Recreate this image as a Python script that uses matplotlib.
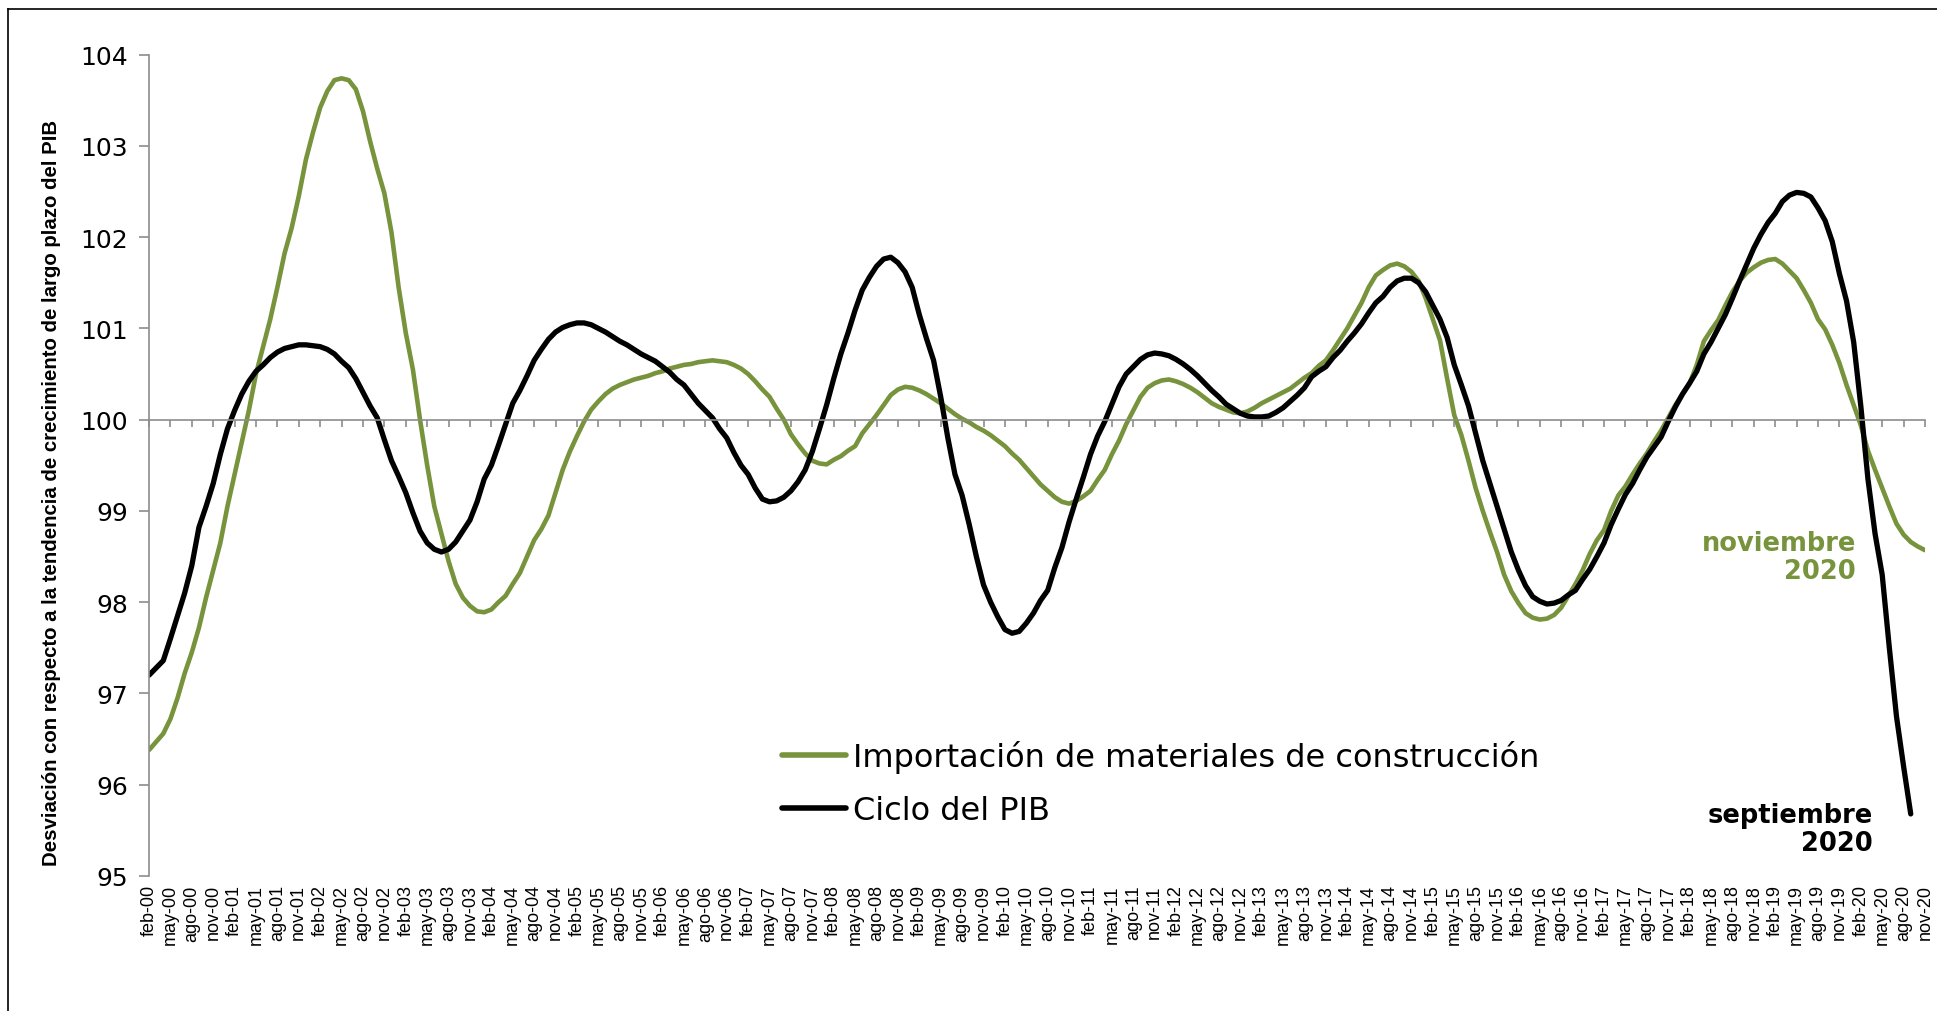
import matplotlib
matplotlib.use("Agg")
import matplotlib.pyplot as plt

# meses en castellano, la serie empieza en feb-00
meses = ["ene", "feb", "mar", "abr", "may", "jun", "jul", "ago", "sep", "oct", "nov", "dic"]

# Importación de materiales de construcción (feb-00 .. nov-20)
importaciones = [
    96.38, 96.47, 96.56, 96.72, 96.95, 97.22, 97.45, 97.72, 98.05, 98.35, 98.65, 99.05,
    99.40, 99.75, 100.10, 100.50, 100.80, 101.10, 101.45, 101.82, 102.10, 102.45, 102.85, 103.15,
    103.42, 103.60, 103.72, 103.74, 103.72, 103.62, 103.38, 103.05, 102.75, 102.48, 102.05, 101.45,
    100.95, 100.55, 100.00, 99.50, 99.05, 98.75, 98.45, 98.20, 98.05, 97.96, 97.90, 97.89,
    97.92, 98.00, 98.07, 98.20, 98.32, 98.50, 98.68, 98.80, 98.95, 99.20, 99.45, 99.65,
    99.82, 99.98, 100.11, 100.20, 100.28, 100.34, 100.38, 100.41, 100.44, 100.46, 100.48, 100.51,
    100.53, 100.56, 100.58, 100.60, 100.61, 100.63, 100.64, 100.65, 100.64, 100.63, 100.60, 100.56,
    100.50, 100.42, 100.33, 100.25, 100.12, 100.00, 99.84, 99.73, 99.63, 99.55, 99.52, 99.51,
    99.56, 99.60, 99.66, 99.71, 99.85, 99.95, 100.05, 100.16, 100.27, 100.33, 100.36, 100.35,
    100.32, 100.28, 100.23, 100.18, 100.12, 100.06, 100.01, 99.97, 99.92, 99.88, 99.83, 99.77,
    99.71, 99.63, 99.56, 99.47, 99.38, 99.29, 99.22, 99.15, 99.10, 99.08, 99.11, 99.16,
    99.22, 99.34, 99.45, 99.62, 99.77, 99.95, 100.10, 100.25, 100.35, 100.40, 100.43, 100.44,
    100.42, 100.39, 100.35, 100.30, 100.24, 100.18, 100.14, 100.11, 100.08, 100.07, 100.09, 100.13,
    100.18, 100.22, 100.26, 100.30, 100.34, 100.40, 100.46, 100.51, 100.59, 100.65, 100.76, 100.88,
    101.00, 101.14, 101.28, 101.45, 101.58, 101.64, 101.69, 101.71, 101.68, 101.62, 101.52, 101.33,
    101.10, 100.87, 100.45, 100.05, 99.83, 99.55, 99.25, 99.00, 98.77, 98.55, 98.30, 98.12,
    97.99, 97.88, 97.83, 97.81, 97.82, 97.86, 97.94, 98.07, 98.20, 98.35, 98.53, 98.68,
    98.79, 99.00, 99.17, 99.27, 99.40, 99.52, 99.63, 99.76, 99.88, 100.02, 100.16, 100.28,
    100.40, 100.60, 100.86, 100.98, 101.09, 101.25, 101.40, 101.52, 101.61, 101.67, 101.72, 101.75,
    101.76, 101.71, 101.63, 101.55, 101.42, 101.28, 101.10, 100.99, 100.82, 100.62, 100.38, 100.16,
    99.94, 99.66, 99.45, 99.25, 99.05, 98.86, 98.74, 98.66, 98.61, 98.57,
]

# Ciclo del PIB (feb-00 .. sep-20)
ciclo_pib = [
    97.20, 97.28, 97.36, 97.60, 97.85, 98.10, 98.40, 98.82, 99.05, 99.30, 99.62, 99.90,
    100.10, 100.28, 100.42, 100.53, 100.60, 100.68, 100.74, 100.78, 100.80, 100.82, 100.82, 100.81,
    100.80, 100.77, 100.72, 100.64, 100.57, 100.45, 100.30, 100.15, 100.02, 99.78, 99.55, 99.38,
    99.20, 98.98, 98.78, 98.65, 98.58, 98.55, 98.58, 98.66, 98.78, 98.90, 99.10, 99.35,
    99.50, 99.72, 99.95, 100.18, 100.32, 100.48, 100.65, 100.77, 100.88, 100.96, 101.01, 101.04,
    101.06, 101.06, 101.04, 101.00, 100.96, 100.91, 100.86, 100.82, 100.77, 100.72, 100.68, 100.64,
    100.58, 100.52, 100.44, 100.38, 100.28, 100.18, 100.10, 100.02, 99.90, 99.80, 99.64, 99.50,
    99.40, 99.25, 99.13, 99.10, 99.11, 99.15, 99.22, 99.32, 99.45, 99.65, 99.90, 100.16,
    100.45, 100.72, 100.95, 101.20, 101.42, 101.56, 101.68, 101.76, 101.78, 101.72, 101.62, 101.45,
    101.15, 100.89, 100.65, 100.25, 99.80, 99.40, 99.17, 98.85, 98.50, 98.19, 98.00, 97.84,
    97.70, 97.66, 97.68, 97.77, 97.88, 98.02, 98.13, 98.38, 98.60, 98.88, 99.13, 99.37,
    99.62, 99.82, 99.98, 100.17, 100.36, 100.50, 100.58, 100.66, 100.71, 100.73, 100.72, 100.70,
    100.66, 100.61, 100.55, 100.48, 100.40, 100.32, 100.25, 100.17, 100.12, 100.07, 100.04, 100.03,
    100.03, 100.04, 100.08, 100.13, 100.20, 100.27, 100.35, 100.47, 100.53, 100.58, 100.68, 100.76,
    100.86, 100.95, 101.05, 101.17, 101.28, 101.35, 101.45, 101.52, 101.55, 101.55, 101.50, 101.40,
    101.25, 101.10, 100.90, 100.60, 100.38, 100.15, 99.85, 99.55, 99.30, 99.05, 98.80, 98.55,
    98.35, 98.18, 98.06, 98.01, 97.98, 97.99, 98.02, 98.08, 98.13, 98.25, 98.36, 98.50,
    98.65, 98.85, 99.02, 99.18, 99.30, 99.45, 99.59, 99.70, 99.81, 99.98, 100.14, 100.28,
    100.40, 100.53, 100.72, 100.85, 101.00, 101.15, 101.33, 101.52, 101.70, 101.88, 102.03, 102.16,
    102.26, 102.39, 102.46, 102.49, 102.48, 102.44, 102.32, 102.18, 101.95, 101.60, 101.30, 100.85,
    100.15, 99.35, 98.75, 98.30, 97.50, 96.75, 96.20, 95.68,
]

fechas = ["%s-%02d" % (meses[(1 + i) % 12], (1 + i) // 12) for i in range(len(importaciones))]

verde = "#77933c"
gris = "#8c8c8c"
narrow = ["Liberation Sans Narrow", "Liberation Sans", "DejaVu Sans"]

W, H = 1937, 1012
fig = plt.figure(figsize=(W / 100, H / 100), dpi=100)
left, right, top, bottom = 149, 1925, 55.6, 877
ax = fig.add_axes([left / W, 1 - bottom / H, (right - left) / W, (bottom - top) / H])

ax.plot(range(len(importaciones)), importaciones, color=verde, lw=3.3,
        solid_capstyle="round", label="Importación de materiales de construcción")
ax.plot(range(len(ciclo_pib)), ciclo_pib, color="black", lw=3.8,
        solid_capstyle="round", label="Ciclo del PIB")

ax.set_xlim(0, len(importaciones) - 1)
ax.set_ylim(95, 104)

for s in ["top", "right"]:
    ax.spines[s].set_visible(False)
ax.spines["left"].set_color(gris)
ax.spines["left"].set_linewidth(1.2)
ax.spines["bottom"].set_position(("data", 100))
ax.spines["bottom"].set_color(gris)
ax.spines["bottom"].set_linewidth(1.2)

ax.set_yticks(range(95, 105))
ax.tick_params(axis="y", direction="out", length=7, width=1.2, color=gris,
               labelsize=18, pad=8)
ax.set_xticks(range(0, len(importaciones), 3))
ax.tick_params(axis="x", direction="out", length=5, width=1.2, color=gris,
               labelbottom=False)

# etiquetas de fechas abajo del todo
sec = ax.secondary_xaxis("bottom")
sec.set_xticks(range(0, len(importaciones), 3),
               labels=[fechas[i] for i in range(0, len(importaciones), 3)])
sec.tick_params(length=0, pad=6)
sec.spines["bottom"].set_visible(False)
for lab in sec.get_xticklabels():
    lab.set_rotation(90)
    lab.set_fontfamily(narrow)
    lab.set_fontsize(13)

leg = ax.legend(loc="upper left", bbox_to_anchor=(782 / W, 1 - 741 / H),
                bbox_transform=fig.transFigure, frameon=False,
                handlelength=2.0, handletextpad=0.21, borderpad=0,
                borderaxespad=0, labelspacing=0.7,
                prop={"family": "DejaVu Sans", "size": 23})
for line in leg.get_lines():
    line.set_linewidth(4)

fig.text(52 / W, 1 - 493 / H,
         "Desviación con respecto a la tendencia de crecimiento de largo plazo del PIB",
         rotation=90, ha="center", va="center", fontsize=14.7, fontweight="bold",
         family=narrow)

fig.text(1856 / W, 1 - 558 / H, "noviembre\n2020", color=verde, ha="right", va="center",
         multialignment="right", fontsize=18.5, fontweight="bold", linespacing=1.12)
fig.text(1873 / W, 1 - 830 / H, "septiembre\n2020", color="black", ha="right",
         va="center", multialignment="right", fontsize=18.5, fontweight="bold",
         linespacing=1.12)

# borde del área del gráfico
fig.add_artist(plt.Line2D([8 / W, 8 / W], [0, 1 - 10 / H], color="black", lw=1.2))
fig.add_artist(plt.Line2D([8 / W, 1], [1 - 10 / H, 1 - 10 / H], color="black", lw=1.2))

fig.savefig("out.png", dpi=100)
